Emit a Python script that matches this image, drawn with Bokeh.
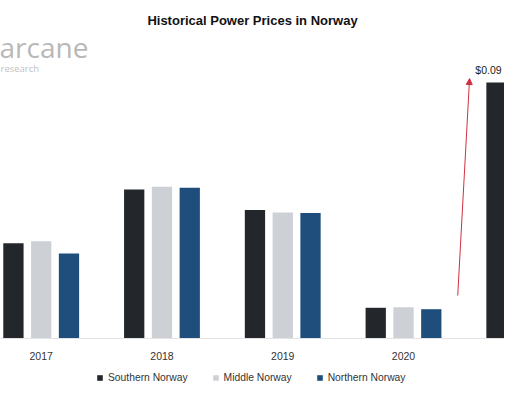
from bokeh.plotting import figure
from bokeh.models import (Range1d, Legend, LegendItem, Label, Arrow, Span,
                          NormalHead, ColumnDataSource)
from bokeh.core.properties import value
from bokeh.embed import file_html
from bokeh.resources import INLINE

# ---- data ($/kWh) ----
years = ["2017", "2018", "2019", "2020", "2021"]
southern = [0.0335, 0.0524, 0.0452, 0.0108, 0.0900]
middle = [0.0342, 0.0534, 0.0443, 0.0110, float("nan")]
northern = [0.0299, 0.0530, 0.0441, 0.0103, float("nan")]
series_names = ["Southern Norway", "Middle Norway", "Northern Norway"]
series_colors = ["#23262b", "#cdd1d6", "#1f4e7d"]
highlight_label = "$0.09"
title_text = "Historical Power Prices in Norway"

FONT = "Liberation Sans"
W, H = 504, 384
TOP = 27
BASE = 338                    # canvas y of the zero line
PX_PER_UNIT = 2844.0          # vertical scale (px per $)
GROUP_PX = 124.6 * W / 520.0  # px per year group
FIRST_GROUP_PX = 42.0 * W / 520.0

idx = list(range(len(years)))
offset = 0.23
bar_w = 0.168

x_start = -FIRST_GROUP_PX / GROUP_PX
x_end = x_start + W / GROUP_PX
p = figure(width=W, height=H, output_backend="svg", toolbar_location=None,
           x_range=Range1d(x_start, x_end),
           y_range=Range1d(-(H - BASE) / PX_PER_UNIT, (BASE - TOP) / PX_PER_UNIT),
           min_border_left=0, min_border_right=0,
           min_border_top=TOP, min_border_bottom=0)

p.title.text = title_text
p.title.align = "center"
p.title.text_font = FONT
p.title.text_font_size = "13px"
p.title.text_font_style = "bold"
p.title.text_color = "#111111"
p.title.offset = 0
p.title.standoff = 0

p.outline_line_color = None
p.xgrid.visible = False
p.ygrid.visible = False
p.xaxis.visible = False
p.yaxis.visible = False
p.background_fill_color = "white"
p.border_fill_color = "white"

# zero line (category axis line)
p.add_layout(Span(location=0, dimension="width", line_color="#e3e3e3", line_width=1))

renderers = []
for vals, off, col in zip([southern, middle, northern], [-offset, 0, offset], series_colors):
    src = ColumnDataSource(dict(x=[i + off for i in idx], top=vals))
    r = p.vbar(x="x", top="top", width=bar_w, source=src, fill_color=col, line_color=None)
    renderers.append(r)

# category labels under the zero line
vis = [i for i in idx if x_start < i < x_end]
lab_src = ColumnDataSource(dict(x=vis, y=[0] * len(vis), t=[years[i] for i in vis]))
p.text(x="x", y="y", text="t", source=lab_src, y_offset=17,
       text_align="center", text_baseline="middle",
       text_font=value(FONT), text_font_size="10.5px", text_color="#333333")

legend = Legend(items=[LegendItem(label=n, renderers=[r]) for n, r in zip(series_names, renderers)],
                orientation="horizontal", location=(96, 1),
                glyph_width=7, glyph_height=7, label_standoff=5, spacing=24,
                label_text_font=FONT, label_text_font_size="10.3px", label_text_color="#333333",
                border_line_color=None, background_fill_alpha=0,
                margin=0, padding=1, label_height=12)
p.add_layout(legend)

# value label on the 2021 southern bar
p.add_layout(Label(x=idx[4] - offset, y=southern[4], text=highlight_label,
                   text_align="center", text_baseline="bottom", y_offset=7, x_offset=-8,
                   text_font=FONT, text_font_size="10.5px", text_color="#222222"))

# red arrow from 2020 towards the 2021 level
p.add_layout(Arrow(x_start=idx[3] + 0.449, y_start=southern[3] + 0.0043,
                   x_end=idx[3] + 0.547, y_end=southern[4] + 0.0014,
                   line_color="#d0313f", line_width=1,
                   end=NormalHead(size=6, fill_color="#d0313f", line_color="#d0313f")))

# logo
p.add_layout(Label(x=-1, y=H - 65, x_units="screen", y_units="screen", text="arcane",
                   text_baseline="bottom",
                   text_font="Open Sans", text_font_size="28px", text_color="#b8b8b8"))
p.add_layout(Label(x=0, y=H - 74.5, x_units="screen", y_units="screen", text="research",
                   text_baseline="bottom",
                   text_font="Open Sans", text_font_size="9.5px", text_color="#c2c2c2"))

open("out.html", "w").write(file_html(p, INLINE))
